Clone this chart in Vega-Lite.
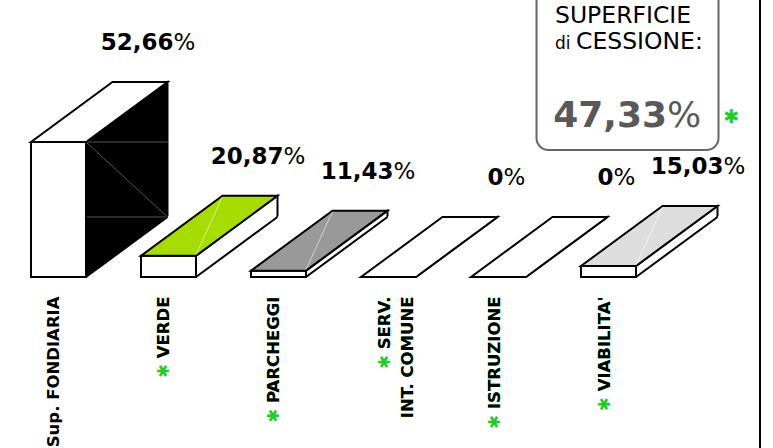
{
  "$schema": "https://vega.github.io/schema/vega-lite/v6.json",
  "width": 667,
  "height": 277,
  "autosize": {"type": "none"},
  "padding": {"left": 0, "top": 0, "right": 106, "bottom": 171},
  "background": "white",
  "config": {
    "view": {"stroke": null},
    "locale": {"number": {"decimal": ",", "thousands": ".", "grouping": [3], "currency": ["", " €"]}},
    "text": {"font": "DejaVu Sans"}
  },
  "data": {
    "values": [
      {"categoria": "Sup. FONDIARIA", "etichetta": "Sup. FONDIARIA", "etichetta_verde": "", "valore": 52.66, "cessione": false},
      {"categoria": "VERDE", "etichetta": "VERDE", "etichetta_verde": "✱ VERDE", "valore": 20.87, "cessione": true},
      {"categoria": "PARCHEGGI", "etichetta": "PARCHEGGI", "etichetta_verde": "✱ PARCHEGGI", "valore": 11.43, "cessione": true},
      {"categoria": "SERV. INT. COMUNE", "etichetta": "SERV.\nINT. COMUNE", "etichetta_verde": "✱ SERV.\nINT. COMUNE", "valore": 0, "cessione": true},
      {"categoria": "ISTRUZIONE", "etichetta": "ISTRUZIONE", "etichetta_verde": "✱ ISTRUZIONE", "valore": 0, "cessione": true},
      {"categoria": "VIABILITA", "etichetta": "VIABILITA'", "etichetta_verde": "✱ VIABILITA'", "valore": 15.03, "cessione": true}
    ]
  },
  "encoding": {
    "x": {
      "field": "categoria", "type": "nominal", "axis": null,
      "scale": {"type": "point", "padding": 0.5318, "domain": ["Sup. FONDIARIA", "VERDE", "PARCHEGGI", "SERV. INT. COMUNE", "ISTRUZIONE", "VIABILITA"]}
    },
    "y": {
      "field": "valore", "type": "quantitative", "axis": null,
      "scale": {"type": "pow", "exponent": 2, "domain": [0, 75.43], "nice": false}
    }
  },
  "layer": [
    {
      "mark": {"type": "point", "shape": "M27.5,0L109,-60L109,300L27.5,360Z", "size": 4, "filled": true, "opacity": 1, "stroke": "black", "strokeWidth": 2},
      "encoding": {
        "fill": {"condition": {"test": "datum.categoria === 'Sup. FONDIARIA'", "value": "black"}, "value": "white"}
      }
    },
    {
      "transform": [{"filter": "datum.categoria === 'Sup. FONDIARIA'"}],
      "mark": {"type": "rule", "color": "#555555", "strokeWidth": 1, "xOffset": 27.5, "x2Offset": 109, "y2Offset": -60},
      "encoding": {"x2": {"field": "categoria"}, "y2": {"datum": 0}}
    },
    {
      "transform": [{"filter": "datum.categoria === 'Sup. FONDIARIA'"}],
      "mark": {"type": "rule", "color": "#555555", "strokeWidth": 1, "xOffset": 27.5, "x2Offset": 109},
      "encoding": {"x2": {"field": "categoria"}}
    },
    {
      "transform": [{"filter": "datum.categoria === 'Sup. FONDIARIA'"}],
      "mark": {"type": "rule", "color": "#555555", "strokeWidth": 1, "xOffset": 27.5, "x2Offset": 109, "yOffset": -60},
      "encoding": {"x2": {"field": "categoria"}, "y": {"datum": 0, "type": "quantitative"}}
    },
    {
      "mark": {"type": "point", "shape": "M26,1.1L111,-61.5L111,400L26,400Z", "size": 4, "filled": true, "opacity": 1, "fill": "white", "strokeWidth": 0},
      "encoding": {"y": {"datum": 0, "type": "quantitative"}}
    },
    {
      "mark": {"type": "point", "shape": "M27.5,0L109,-60", "size": 4, "filled": false, "opacity": 1, "stroke": "black", "strokeWidth": 2},
      "encoding": {"y": {"datum": 0, "type": "quantitative"}}
    },
    {
      "mark": {"type": "bar", "width": 55, "fill": "white", "stroke": "black", "strokeWidth": 2},
      "encoding": {"y2": {"datum": 0}}
    },
    {
      "mark": {"type": "point", "shape": "M-27.5,0L27.5,0L109,-60L54,-60Z", "size": 4, "filled": true, "opacity": 1, "stroke": "black", "strokeWidth": 2},
      "encoding": {
        "fill": {
          "field": "categoria", "type": "nominal", "legend": null,
          "scale": {"domain": ["Sup. FONDIARIA", "VERDE", "PARCHEGGI", "SERV. INT. COMUNE", "ISTRUZIONE", "VIABILITA"], "range": ["#ffffff", "#a6dc00", "#999999", "#ffffff", "#ffffff", "#dddddd"]}
        }
      }
    },
    {
      "mark": {"type": "point", "shape": "M27.5,-1L54,-59", "size": 4, "filled": false, "opacity": 1, "stroke": "rgba(255,255,255,0.55)", "strokeWidth": 1}
    },
    {
      "mark": {"type": "text", "align": "right", "baseline": "alphabetic", "fontWeight": "bold", "fontSize": 23, "fill": "black", "xOffset": 115, "yOffset": -92},
      "encoding": {"text": {"field": "valore", "type": "quantitative", "format": ".2~f"}}
    },
    {
      "mark": {"type": "text", "text": "%", "align": "left", "baseline": "alphabetic", "fontWeight": "normal", "fontSize": 23, "fill": "black", "xOffset": 115, "yOffset": -92}
    },
    {
      "transform": [{"filter": "datum.cessione"}],
      "mark": {"type": "text", "angle": 270, "align": "right", "baseline": "middle", "fontWeight": "bold", "fontSize": 16.5, "fill": "#22cc22", "lineBreak": "\n", "lineHeight": 23, "xOffset": -4, "yOffset": 19.5},
      "encoding": {"text": {"field": "etichetta_verde"}, "y": {"datum": 0, "type": "quantitative"}}
    },
    {
      "mark": {"type": "text", "angle": 270, "align": "right", "baseline": "middle", "fontWeight": "bold", "fontSize": 16.5, "fill": "black", "lineBreak": "\n", "lineHeight": 23, "xOffset": -4, "yOffset": 19.5},
      "encoding": {"text": {"field": "etichetta"}, "y": {"datum": 0, "type": "quantitative"}}
    },
    {
      "transform": [
        {"filter": "datum.cessione"},
        {"joinaggregate": [{"op": "sum", "field": "valore", "as": "totale"}]},
        {"filter": "datum.categoria === 'VIABILITA'"}
      ],
      "layer": [
        {
          "mark": {"type": "rect", "fill": "white", "fillOpacity": 0, "stroke": "#666666", "strokeWidth": 2, "cornerRadius": 12, "xOffset": -72, "x2Offset": 110, "yOffset": -300, "y2Offset": -127},
          "encoding": {"x2": {"field": "categoria"}, "y": {"datum": 0, "type": "quantitative"}, "y2": {"datum": 0}}
        },
        {
          "mark": {"type": "text", "text": "SUPERFICIE", "align": "left", "baseline": "alphabetic", "fontSize": 23.5, "fill": "black", "xOffset": -53.5, "yOffset": -254},
          "encoding": {"y": {"datum": 0, "type": "quantitative"}}
        },
        {
          "mark": {"type": "text", "text": "di", "align": "left", "baseline": "alphabetic", "fontSize": 17, "fill": "black", "xOffset": -53.5, "yOffset": -228},
          "encoding": {"y": {"datum": 0, "type": "quantitative"}}
        },
        {
          "mark": {"type": "text", "text": "CESSIONE:", "align": "left", "baseline": "alphabetic", "fontSize": 23.5, "fill": "black", "xOffset": -32.5, "yOffset": -228},
          "encoding": {"y": {"datum": 0, "type": "quantitative"}}
        },
        {
          "mark": {"type": "text", "align": "right", "baseline": "alphabetic", "fontSize": 36, "fontWeight": "bold", "fill": "#595959", "xOffset": 58.5, "yOffset": -150},
          "encoding": {"text": {"field": "totale", "type": "quantitative", "format": ".2~f"}, "y": {"datum": 0, "type": "quantitative"}}
        },
        {
          "mark": {"type": "text", "text": "%", "align": "left", "baseline": "alphabetic", "fontSize": 36, "fill": "#595959", "xOffset": 58.5, "yOffset": -150},
          "encoding": {"y": {"datum": 0, "type": "quantitative"}}
        },
        {
          "mark": {"type": "text", "text": "✱", "align": "center", "baseline": "middle", "fontSize": 19, "fontWeight": "bold", "fill": "#22cc22", "xOffset": 123, "yOffset": -160},
          "encoding": {"y": {"datum": 0, "type": "quantitative"}}
        },
        {
          "mark": {"type": "rule", "stroke": "black", "strokeWidth": 2, "xOffset": 151.5, "yOffset": -290, "y2Offset": 180},
          "encoding": {"y": {"datum": 0, "type": "quantitative"}, "y2": {"datum": 0}}
        }
      ]
    }
  ]
}
